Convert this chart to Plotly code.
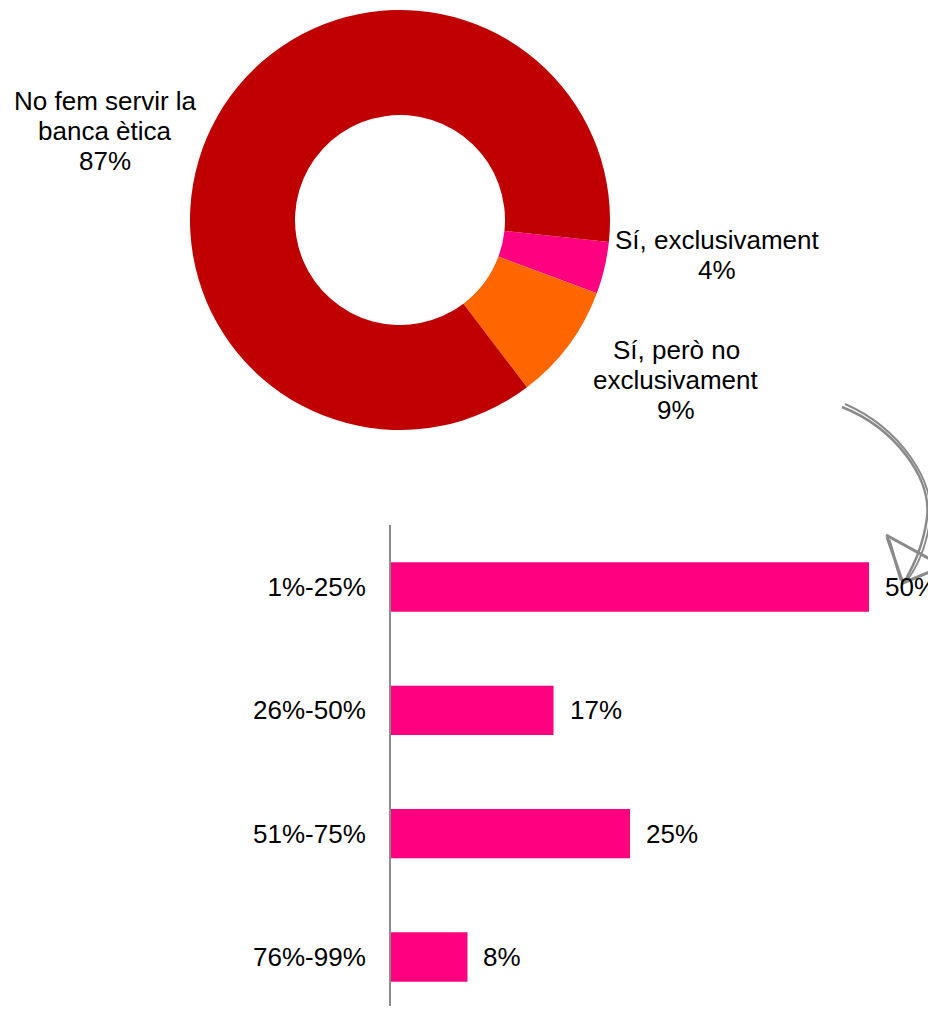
import plotly.graph_objects as go

# page offset (browser body margin)
OFF = 8
W, H = 936 - OFF, 1014 - 2 * OFF

# Donut data
pie_labels = ["Sí, exclusivament", "Sí, però no exclusivament", "No fem servir la banca ètica"]
pie_values = [4, 9, 87]
pie_colors = ["#FF0080", "#FF6600", "#C00000"]
pie_text_lines = [["Sí, exclusivament", "4%"],
                  ["Sí, però no", "exclusivament", "9%"],
                  ["No fem servir la", "banca ètica", "87%"]]

# Bar data
bar_cats = ["1%-25%", "26%-50%", "51%-75%", "76%-99%"]
bar_values = [50, 17, 25, 8]
bar_text = ["50%", "17%", "25%", "8%"]
bar_color = "#FF0080"

FONT = "Liberation Sans, Arial, sans-serif"
FS = 26


def fx(x):
    return (x - OFF) / W


def fy(y):
    return 1 - (y - OFF) / H


def P(x, y):
    return f"{fx(x):.5f},{fy(y):.5f}"


fig = go.Figure()

fig.add_trace(go.Pie(
    labels=pie_labels, values=pie_values, hole=0.5, sort=False,
    direction="clockwise", rotation=96,
    marker=dict(colors=pie_colors, line=dict(width=0)),
    textinfo="none", hoverinfo="label+percent",
    domain=dict(x=[fx(190), fx(610)], y=[fy(430), fy(10)]),
    showlegend=False,
))

fig.add_trace(go.Bar(
    x=bar_values, y=bar_cats, orientation="h", width=0.4,
    marker=dict(color=bar_color, line=dict(width=0)),
    xaxis="x", yaxis="y", showlegend=False,
))

annotations = []
# pie label positions: center x and first-line center y (reference pixels)
pie_label_pos = [(717, 240), (676, 350), (105, 101)]
LINE = 30
for lines, (x, y0) in zip(pie_text_lines, pie_label_pos):
    for i, t in enumerate(lines):
        annotations.append(dict(x=fx(x), y=fy(y0 + i * LINE), xref="paper", yref="paper",
                                text=t, showarrow=False, xanchor="center", yanchor="middle",
                                font=dict(size=FS, color="#000", family=FONT)))
for v, c, t in zip(bar_values, bar_cats, bar_text):
    annotations.append(dict(x=v, y=c, xref="x", yref="y", text=t, showarrow=False,
                            xanchor="left", yanchor="middle", xshift=14,
                            font=dict(size=FS, color="#000", family=FONT)))

# hand-drawn arrow (sketchy double strokes)
curve1 = (f"M{P(842,407)} C{P(895,428)} {P(932,478)} {P(927,518)} "
          f"C{P(923,548)} {P(912,568)} {P(904,583)}")
curve2 = (f"M{P(845,404)} C{P(900,428)} {P(936,482)} {P(930,520)} "
          f"C{P(926,550)} {P(915,570)} {P(906,582)}")
head = (f"M{P(887,537)} L{P(903,583)} L{P(937,569)} "
        f"M{P(886,535)} L{P(937,563)} M{P(889,540)} L{P(901,580)}")
grey = "#8a8a8a"
shapes = [
    dict(type="path", path=curve1, xref="paper", yref="paper",
         line=dict(color=grey, width=2.5)),
    dict(type="path", path=curve2, xref="paper", yref="paper",
         line=dict(color=grey, width=2)),
    dict(type="path", path=head, xref="paper", yref="paper",
         line=dict(color=grey, width=3)),
]

fig.update_layout(
    width=W, height=H,
    margin=dict(l=0, r=0, t=0, b=0),
    paper_bgcolor="white", plot_bgcolor="white",
    font=dict(family=FONT, size=FS, color="#000"),
    xaxis=dict(domain=[fx(391), 1], range=[0, (936 - 391) / 9.56], visible=False,
               showgrid=False, zeroline=False),
    yaxis=dict(domain=[0, fy(525)], range=[(1006 - 587) / 123.33, -0.503],
               categoryorder="array", categoryarray=bar_cats,
               showline=True, linecolor="#8c8c8c", linewidth=2,
               showgrid=False, zeroline=False, ticks="",
               ticklabelstandoff=18,
               tickfont=dict(size=FS, color="#000", family=FONT)),
    annotations=annotations,
    shapes=shapes,
    bargap=0.6,
)

fig.write_html("out.html")
